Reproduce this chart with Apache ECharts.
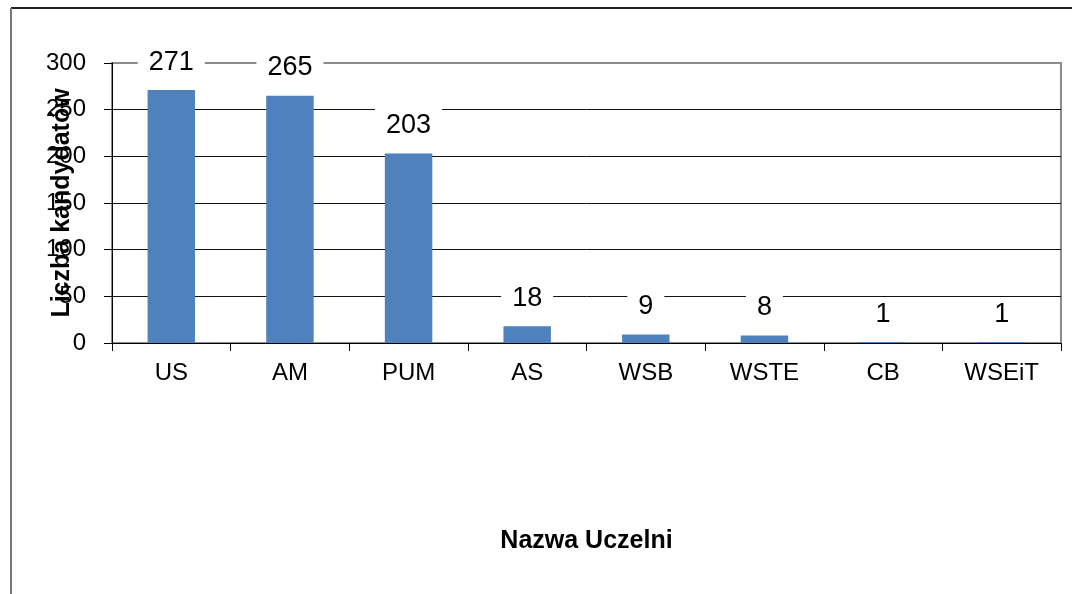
<!DOCTYPE html>
<html>
<head>
<meta charset="utf-8">
<script src="https://cdn.jsdelivr.net/npm/echarts@6/dist/echarts.min.js"></script>
<style>
  html, body { margin: 0; padding: 0; background: #fff; }
  #chart { width: 1072px; height: 594px; }
</style>
</head>
<body>
<div id="chart"></div>
<script>
const categories = ['US', 'AM', 'PUM', 'AS', 'WSB', 'WSTE', 'CB', 'WSEiT']
const candidates = [271, 265, 203, 18, 9, 8, 1, 1]
const yTicks = { min: 0, max: 300, interval: 50 }

const font = '"Liberation Sans", Arial, sans-serif'
const chart = echarts.init(document.getElementById('chart'))

chart.setOption({
  animation: false,
  backgroundColor: '#fff',
  textStyle: { fontFamily: font },
  grid: {
    left: 112, right: 11, top: 63, bottom: 251,
    show: true, borderColor: '#8c8c8c', borderWidth: 2, backgroundColor: '#fff'
  },
  graphic: [
    { type: 'line', shape: { x1: 11, y1: 8, x2: 1072, y2: 8 }, style: { stroke: '#222', lineWidth: 2 } },
    { type: 'line', shape: { x1: 11, y1: 8, x2: 11, y2: 594 }, style: { stroke: '#777', lineWidth: 2 } }
  ],
  xAxis: {
    type: 'category',
    data: categories,
    name: 'Nazwa Uczelni',
    nameLocation: 'middle',
    nameGap: 186,
    nameMoveOverlap: false,
    nameTextStyle: { fontFamily: font, fontSize: 25, fontWeight: 'bold', color: '#000' },
    axisLine: { lineStyle: { color: '#000', width: 1 } },
    axisTick: { show: true, length: 8, lineStyle: { color: '#000' } },
    axisLabel: { color: '#000', fontSize: 24, margin: 18, fontFamily: font }
  },
  yAxis: {
    type: 'value',
    min: yTicks.min,
    max: yTicks.max,
    interval: yTicks.interval,
    name: 'Liczba kandydatów',
    nameLocation: 'middle',
    nameGap: 37,
    nameMoveOverlap: false,
    nameTextStyle: { fontFamily: font, fontSize: 25, fontWeight: 'bold', color: '#000' },
    axisLine: { show: true, lineStyle: { color: '#000', width: 1 } },
    axisTick: { show: true, length: 8, lineStyle: { color: '#000' } },
    axisLabel: { color: '#000', fontSize: 24, margin: 26, fontFamily: font },
    splitLine: { show: true, showMaxLine: false, lineStyle: { color: '#111', width: 1 } }
  },
  series: [
    {
      type: 'bar',
      data: candidates,
      barWidth: '40%',
      itemStyle: { color: '#4F81BD' },
      label: {
        show: true,
        position: 'top',
        distance: 11,
        color: '#000',
        fontSize: 27,
        fontFamily: font,
        lineHeight: 28,
        backgroundColor: '#fff',
        padding: [3, 11]
      }
    }
  ]
})
</script>
</body>
</html>
